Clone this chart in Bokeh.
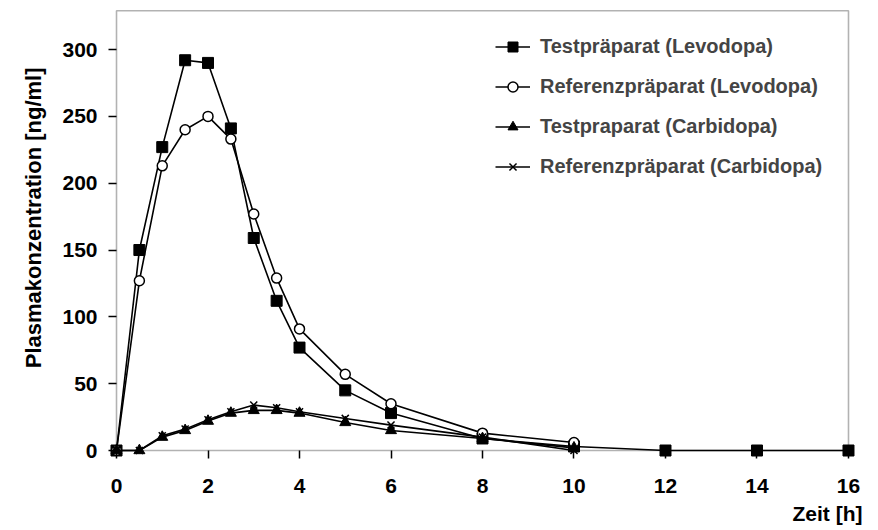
from bokeh.plotting import figure
from bokeh.models import Range1d, Legend, LegendItem, FixedTicker, BoxAnnotation, Title
from bokeh.embed import file_html
from bokeh.resources import INLINE

# ---- data ----
t_test_levo = [0, 0.5, 1, 1.5, 2, 2.5, 3, 3.5, 4, 5, 6, 8, 10, 12, 14, 16]
test_levo = [0, 150, 227, 292, 290, 241, 159, 112, 77, 45, 28, 9, 3, 0, 0, 0]

t_ref_levo = [0, 0.5, 1, 1.5, 2, 2.5, 3, 3.5, 4, 5, 6, 8, 10]
ref_levo = [0, 127, 213, 240, 250, 233, 177, 129, 91, 57, 35, 13, 6]

t_test_carbi = [0, 0.5, 1, 1.5, 2, 2.5, 3, 3.5, 4, 5, 6, 8, 10]
test_carbi = [0, 0, 10, 15, 22, 28, 30, 30, 28, 21, 15, 9, 2]

t_ref_carbi = [0, 0.5, 1, 1.5, 2, 2.5, 3, 3.5, 4, 5, 6, 8, 10]
ref_carbi = [0, 0, 11, 16, 23, 29, 34, 32, 29, 24, 19, 10, 0]

x_ticks = [0, 2, 4, 6, 8, 10, 12, 14, 16]
y_ticks = [0, 50, 100, 150, 200, 250, 300]

labels = ["Testpräparat (Levodopa)", "Referenzpräparat (Levodopa)",
          "Testpraparat (Carbidopa)", "Referenzpräparat (Carbidopa)"]

X_MAX = 16
Y_TOP = 329
FONT = "Liberation Sans"

p = figure(width=878, height=530, output_backend="svg", toolbar_location=None,
           x_range=Range1d(-0.175, 16.175), y_range=Range1d(-5.98, 336.7),
           min_border_left=108, min_border_right=22, min_border_top=0,
           min_border_bottom=72)
p.outline_line_color = None
p.grid.visible = False
p.background_fill_color = "white"

# plot-area box
p.add_layout(BoxAnnotation(left=0, right=X_MAX, bottom=0, top=Y_TOP,
                           fill_alpha=0, line_color="black", line_width=1.6,
                           level="underlay"))

for ax in (p.xaxis[0], p.yaxis[0]):
    ax.axis_line_color = None
    ax.major_tick_line_color = "black"
    ax.major_tick_line_width = 1.5
    ax.minor_tick_line_color = None
    ax.major_tick_in = 8
    ax.major_tick_out = 0
    ax.major_label_text_font = FONT
    ax.major_label_text_font_style = "bold"
    ax.major_label_text_font_size = "21px"
    ax.major_label_text_color = "black"

p.xaxis[0].ticker = FixedTicker(ticks=x_ticks)
p.yaxis[0].ticker = FixedTicker(ticks=y_ticks)
p.xaxis[0].major_label_standoff = 20
p.xaxis[0].major_label_text_line_height = 0.8
p.yaxis[0].major_label_standoff = 11

lw = 1.6
l1 = p.line(t_test_levo, test_levo, line_color="black", line_width=lw)
m1 = p.scatter(t_test_levo, test_levo, marker="square", size=11,
               fill_color="black", line_color="black")
l2 = p.line(t_ref_levo, ref_levo, line_color="black", line_width=lw)
m2 = p.scatter(t_ref_levo, ref_levo, marker="circle", size=10,
               fill_color="white", line_color="black", line_width=1.5)
l3 = p.line(t_test_carbi, test_carbi, line_color="black", line_width=lw)
m3 = p.scatter(t_test_carbi, test_carbi, marker="triangle", size=11,
               fill_color="black", line_color="black")
l4 = p.line(t_ref_carbi, ref_carbi, line_color="black", line_width=lw)
m4 = p.scatter(t_ref_carbi, ref_carbi, marker="x", size=10,
               line_color="black", line_width=1.5)

legend = Legend(items=[LegendItem(label=labels[0], renderers=[l1, m1]),
                       LegendItem(label=labels[1], renderers=[l2, m2]),
                       LegendItem(label=labels[2], renderers=[l3, m3]),
                       LegendItem(label=labels[3], renderers=[l4, m4])],
                location=(387, 279), padding=0, margin=0, spacing=15,
                glyph_width=35, glyph_height=25, label_height=25,
                label_standoff=10, border_line_color=None,
                background_fill_alpha=0,
                label_text_font=FONT, label_text_font_style="bold",
                label_text_font_size="20px")
p.add_layout(legend, "center")

p.add_layout(Title(text="Zeit [h]", align="right", vertical_align="bottom",
                   text_font=FONT, text_font_style="bold",
                   text_font_size="21px", text_color="black",
                   standoff=8, offset=-6), "below")
p.add_layout(Title(text="Plasmakonzentration [ng/ml]", align="right",
                   vertical_align="top",
                   text_font=FONT, text_font_style="bold",
                   text_font_size="22px", text_color="black",
                   standoff=24, offset=67), "left")

open("out.html", "w").write(file_html(p, INLINE))
